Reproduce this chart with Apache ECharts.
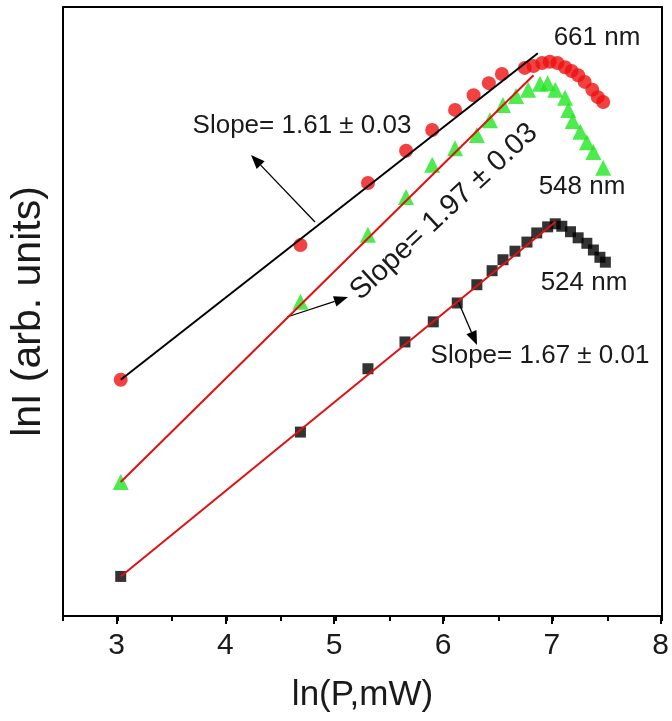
<!DOCTYPE html>
<html style="height: 100%">
<head>
<meta charset="utf-8">
<script src="https://cdn.jsdelivr.net/npm/echarts@6/dist/echarts.min.js"></script>
</head>
<body style="height: 100%; margin: 0; background: #fff">
<div id="container" style="width: 672px; height: 721px"></div>
<script type="text/javascript">
// 661 nm (red circles)
var lnP661 = [3.03, 4.68, 5.30, 5.65, 5.89, 6.10, 6.27, 6.41, 6.53, 6.74, 6.82, 6.90, 6.97, 7.04, 7.11, 7.17, 7.23, 7.29, 7.36, 7.41, 7.46];
var lnI661 = [3.88, 6.09, 7.11, 7.64, 7.98, 8.31, 8.55, 8.75, 8.90, 9.00, 9.03, 9.08, 9.10, 9.08, 9.01, 8.95, 8.88, 8.77, 8.64, 8.52, 8.44];
// 548 nm (green triangles)
var lnP548 = [3.03, 4.68, 5.30, 5.65, 5.89, 6.10, 6.30, 6.42, 6.54, 6.66, 6.77, 6.88, 6.95, 7.02, 7.11, 7.14, 7.18, 7.25, 7.31, 7.37, 7.46];
var lnI548 = [2.20, 5.16, 6.26, 6.88, 7.41, 7.68, 7.90, 8.14, 8.39, 8.54, 8.64, 8.74, 8.75, 8.64, 8.51, 8.31, 8.13, 7.95, 7.78, 7.62, 7.36];
// 524 nm (black squares)
var lnP524 = [3.03, 4.68, 5.30, 5.64, 5.90, 6.12, 6.30, 6.44, 6.54, 6.65, 6.76, 6.85, 6.95, 7.02, 7.08, 7.16, 7.23, 7.31, 7.37, 7.43, 7.48];
var lnI524 = [0.65, 3.02, 4.06, 4.50, 4.83, 5.14, 5.44, 5.67, 5.85, 5.99, 6.14, 6.29, 6.39, 6.44, 6.40, 6.31, 6.21, 6.12, 6.01, 5.89, 5.81];
// linear fits
var fit661X = [3.03, 6.86], fit661Y = [3.88, 9.24];
var fit548X = [3.03, 6.82], fit548Y = [2.20, 8.88];
var fit524X = [3.03, 7.02], fit524Y = [0.65, 6.47];
var tickLabels = [3, 4, 5, 6, 7, 8];

function pairs(xs, ys) {
    return xs.map(function (x, i) { return [x, ys[i]]; });
}

var FONT = 'Liberation Sans, Arial, sans-serif';

// arrow: shaft plus filled head at (x2, y2)
function arrow(x1, y1, x2, y2) {
    var a = Math.atan2(y2 - y1, x2 - x1), L = 14, W = 5.5;
    var bx = x2 - L * Math.cos(a), by = y2 - L * Math.sin(a);
    return [
        { type: 'line', shape: { x1: x1, y1: y1, x2: bx, y2: by }, style: { stroke: '#000', lineWidth: 1.3 } },
        { type: 'polygon', shape: { points: [[x2, y2],
            [bx + W * Math.sin(a), by - W * Math.cos(a)],
            [bx - W * Math.sin(a), by + W * Math.cos(a)]] }, style: { fill: '#000' } }
    ];
}

function label(x, y, text, size, rot) {
    return { type: 'text', x: x, y: y, rotation: rot || 0,
        style: { text: text, font: size + 'px ' + FONT, fill: '#1a1a1a', align: 'center', verticalAlign: 'middle' } };
}

var dom = document.getElementById('container');
var myChart = echarts.init(dom);

var graphics = [
    label(302, 126, 'Slope= 1.61 \u00b1 0.03', 26),
    label(444, 212, 'Slope= 1.97 \u00b1 0.03', 29, 43 * Math.PI / 180),
    label(540, 356, 'Slope= 1.67 \u00b1 0.01', 26),
    label(597, 38, '661 nm', 26),
    label(582, 187, '548 nm', 26),
    label(584, 283, '524 nm', 26)
].concat(arrow(315, 222, 251, 155), arrow(287, 317, 348, 297), arrow(458, 301, 477, 345));

var option = {
    animation: false,
    graphic: graphics,
    grid: [
        { left: 62, right: 10, top: 7, bottom: 105, show: true, borderColor: '#000', borderWidth: 2 },
        { left: 116.5, right: 10, top: 7, bottom: 105 }
    ],
    xAxis: [{
        type: 'value', gridIndex: 0, min: 2.5, max: 8, interval: 0.5,
        name: 'ln(P,mW)', nameLocation: 'middle', nameGap: 62,
        nameTextStyle: { fontSize: 35, fontFamily: FONT, color: '#1a1a1a' },
        axisLine: { lineStyle: { color: '#000', width: 2 } },
        axisTick: { length: 5, lineStyle: { color: '#000', width: 2 } },
        axisLabel: { show: false },
        splitLine: { show: false }
    }, {
        type: 'value', gridIndex: 1, min: 3, max: 8, interval: 1,
        axisLine: { show: false },
        axisTick: { length: 8, lineStyle: { color: '#000', width: 2 } },
        axisLabel: { fontSize: 30, fontFamily: FONT, color: '#1a1a1a', margin: 15,
            formatter: function (v) { return tickLabels.indexOf(v) >= 0 ? String(v) : ''; } },
        splitLine: { show: false }
    }],
    yAxis: [{
        type: 'value', gridIndex: 0, min: 0, max: 10,
        name: 'lnI (arb. units)', nameLocation: 'middle', nameGap: 14,
        nameTextStyle: { fontSize: 41, fontFamily: FONT, color: '#1a1a1a' },
        axisLine: { show: true, lineStyle: { color: '#000', width: 2 } },
        axisTick: { show: false }, axisLabel: { show: false }, splitLine: { show: false }
    }, {
        type: 'value', gridIndex: 1, min: 0, max: 10, show: false
    }],
    series: [
        { type: 'scatter', symbol: 'circle', symbolSize: 14, data: pairs(lnP661, lnI661),
          itemStyle: { color: '#ee1111' }, z: 2 },
        { type: 'scatter', symbol: 'triangle', symbolSize: 16, data: pairs(lnP548, lnI548),
          itemStyle: { color: '#22e622' }, z: 2 },
        { type: 'scatter', symbol: 'rect', symbolSize: 11, data: pairs(lnP524, lnI524),
          itemStyle: { color: '#000' }, z: 2 },
        { type: 'line', data: pairs(fit661X, fit661Y), showSymbol: false,
          lineStyle: { color: '#000', width: 2 }, z: 3 },
        { type: 'line', data: pairs(fit548X, fit548Y), showSymbol: false,
          lineStyle: { color: '#e01010', width: 2 }, z: 3 },
        { type: 'line', data: pairs(fit524X, fit524Y), showSymbol: false,
          lineStyle: { color: '#e01010', width: 2 }, z: 3 }
    ]
};

myChart.setOption(option);
</script>
</body>
</html>
